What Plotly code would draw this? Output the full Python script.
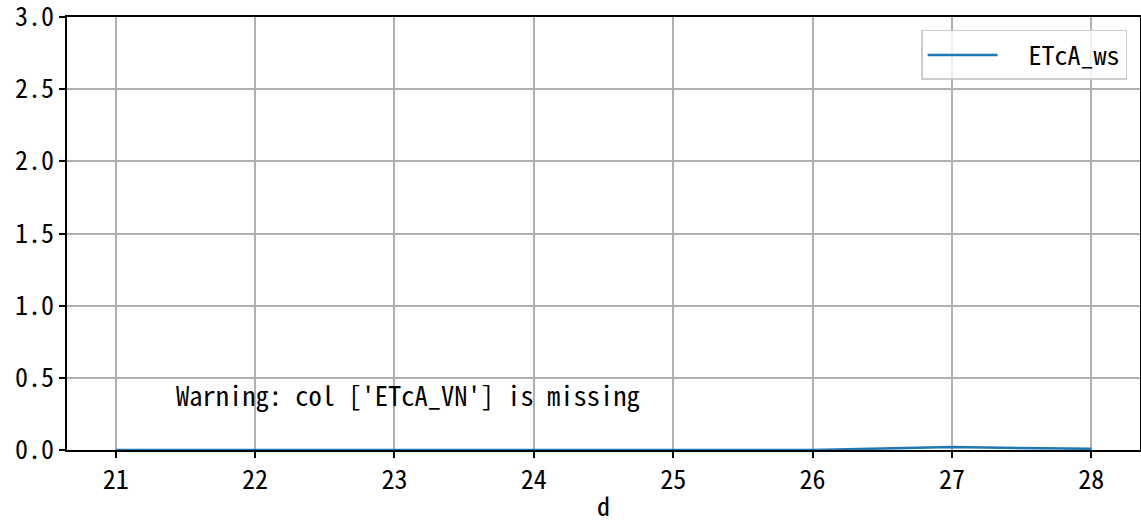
import plotly.graph_objects as go

days = [21, 22, 23, 24, 25, 26, 27, 28]
etca_ws = [0.0, 0.0, 0.0, 0.0, 0.0, 0.0, 0.02, 0.008]
x_ticks = [21, 22, 23, 24, 25, 26, 27, 28]
y_ticks = [0.0, 0.5, 1.0, 1.5, 2.0, 2.5, 3.0]
y_tick_labels = ["0.0", "0.5", "1.0", "1.5", "2.0", "2.5", "3.0"]
series_name = "ETcA_ws"
warning_text = "Warning: col ['ETcA_VN'] is missing"
x_title = "d"

FONT = "Noto Sans Mono CJK SC, Noto Sans CJK SC, DejaVu Sans Mono"
FS = 26

fig = go.Figure()
fig.add_trace(go.Scatter(
    x=days, y=etca_ws, mode="lines", name="  " + series_name,
    line=dict(color="#1f77b4", width=2.5),
))

axis_common = dict(
    showline=True, linecolor="black", linewidth=1.6, mirror=True,
    showgrid=True, gridcolor="#b0b0b0", gridwidth=1.6,
    ticks="outside", ticklen=6, tickwidth=1.6, tickcolor="black",
    zeroline=False, automargin=False, ticklabeloverflow="allow",
    tickfont=dict(family=FONT, size=FS, color="black"),
)

fig.update_layout(
    width=1141, height=523,
    margin=dict(l=67, r=1, t=17, b=73),
    plot_bgcolor="white", paper_bgcolor="white",
    font=dict(family=FONT, size=FS, color="black"),
    xaxis=dict(range=[20.65, 28.35], tickvals=x_ticks,
               title=dict(text=x_title, standoff=7, font=dict(family=FONT, size=FS)),
               **axis_common),
    yaxis=dict(range=[0, 3], tickvals=y_ticks, ticktext=y_tick_labels, **axis_common),
    showlegend=True,
    legend=dict(x=0.988, y=0.97, xanchor="right", yanchor="top", itemwidth=70,
                bgcolor="rgba(255,255,255,0.8)", bordercolor="#cccccc", borderwidth=1.5,
                font=dict(family=FONT, size=FS, color="black")),
    annotations=[dict(
        text=warning_text, xref="paper", yref="paper", x=0.1, y=0.1,
        xanchor="left", yanchor="bottom", showarrow=False, yshift=-9,
        font=dict(family=FONT, size=26.5, color="black"),
    )],
)

fig.write_html("out.html", config={"displayModeBar": False},
               post_script="document.body.style.margin='0';document.body.style.padding='0';")
